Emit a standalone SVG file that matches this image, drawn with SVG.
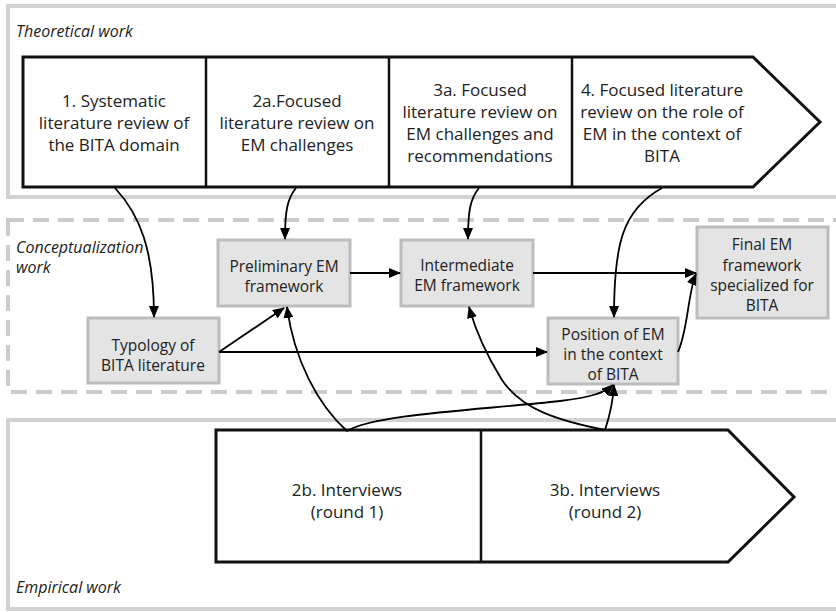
<svg xmlns="http://www.w3.org/2000/svg" width="836" height="612" viewBox="0 0 836 612">
<defs>
<marker id="ah" viewBox="0 0 12 10" refX="11" refY="5" markerWidth="12" markerHeight="10" markerUnits="userSpaceOnUse" orient="auto">
<path d="M0,0 L12,5 L0,10 Z" fill="#000"/>
</marker>
</defs>
<style>
.panel{fill:#fff;stroke:#d2d2d2;stroke-width:4}
.dpanel{fill:#fff;stroke:#cccccc;stroke-width:4;stroke-dasharray:16 9}
.plabel{font-family:"Open Sans","DejaVu Sans",sans-serif;font-style:italic;font-size:16px;fill:#222}
.chev{fill:#fff;stroke:#111;stroke-width:3;stroke-linejoin:miter}
.div{stroke:#111;stroke-width:2.5}
.big{font-family:"Open Sans","DejaVu Sans",sans-serif;font-size:17px;fill:#222;text-anchor:middle}
.node{fill:#e4e4e4;stroke:#bcbcbc;stroke-width:3}
.nt{font-family:"Open Sans","DejaVu Sans",sans-serif;font-size:15.5px;fill:#222;text-anchor:middle}
.c{fill:none;stroke:#000;stroke-width:1.8}
.ca{fill:none;stroke:#000;stroke-width:1.8;marker-end:url(#ah)}
</style>
<g id="panel-theoretical">
<rect class="panel" x="8" y="6" width="836" height="191"/>
<text class="plabel" x="16" y="37">Theoretical work</text>
</g>
<g id="panel-conceptualization">
<rect class="dpanel" x="8" y="220" width="836" height="172"/>
<text class="plabel" x="16" y="253">Conceptualization</text>
<text class="plabel" x="16" y="273">work</text>
</g>
<g id="panel-empirical">
<rect class="panel" x="8" y="420" width="836" height="189"/>
<text class="plabel" x="16" y="593">Empirical work</text>
</g>
<g id="theory-chevron">
<polygon class="chev" points="23,57 753,57 820,122 753,187 23,187"/>
<line class="div" x1="206" y1="57" x2="206" y2="187"/>
<line class="div" x1="389" y1="57" x2="389" y2="187"/>
<line class="div" x1="572" y1="57" x2="572" y2="187"/>
</g>
<g id="step1">
<text class="big" x="114" y="107">1. Systematic</text>
<text class="big" x="114" y="129">literature review of</text>
<text class="big" x="114" y="151">the BITA domain</text>
</g>
<g id="step2a">
<text class="big" x="297" y="107">2a.Focused</text>
<text class="big" x="297" y="129">literature review on</text>
<text class="big" x="297" y="151">EM challenges</text>
</g>
<g id="step3a">
<text class="big" x="480" y="96">3a. Focused</text>
<text class="big" x="480" y="118">literature review on</text>
<text class="big" x="480" y="140">EM challenges and</text>
<text class="big" x="480" y="162">recommendations</text>
</g>
<g id="step4">
<text class="big" x="662" y="96">4. Focused literature</text>
<text class="big" x="662" y="118">review on the role of</text>
<text class="big" x="662" y="140">EM in the context of</text>
<text class="big" x="662" y="162">BITA</text>
</g>
<g id="preliminary">
<rect class="node" x="218" y="240" width="132" height="66"/>
<text class="nt" x="284" y="272">Preliminary EM</text>
<text class="nt" x="284" y="292">framework</text>
</g>
<g id="typology">
<rect class="node" x="88" y="318" width="131" height="65"/>
<text class="nt" x="153" y="351">Typology of</text>
<text class="nt" x="153" y="371">BITA literature</text>
</g>
<g id="intermediate">
<rect class="node" x="401" y="240" width="132" height="66"/>
<text class="nt" x="467" y="271">Intermediate</text>
<text class="nt" x="467" y="291">EM framework</text>
</g>
<g id="position">
<rect class="node" x="548" y="318" width="130" height="66"/>
<text class="nt" x="613" y="340">Position of EM</text>
<text class="nt" x="613" y="360">in the context</text>
<text class="nt" x="613" y="380">of BITA</text>
</g>
<g id="final">
<rect class="node" x="697" y="227" width="131" height="91"/>
<text class="nt" x="762" y="250">Final EM</text>
<text class="nt" x="762" y="271">framework</text>
<text class="nt" x="762" y="291">specialized for</text>
<text class="nt" x="762" y="311">BITA</text>
</g>
<g id="empirical-chevron">
<polygon class="chev" points="216,430 728,430 794,497 728,562 216,562"/>
<line class="div" x1="481" y1="430" x2="481" y2="562"/>
</g>
<g id="step2b">
<text class="big" x="347" y="496">2b. Interviews</text>
<text class="big" x="347" y="518">(round 1)</text>
</g>
<g id="step3b">
<text class="big" x="605" y="496">3b. Interviews</text>
<text class="big" x="605" y="518">(round 2)</text>
</g>
<g id="connectors">
<path class="ca" d="M115,188 C140,215 154,250 154,317"/>
<path class="ca" d="M296,188 C287,199 285,212 285,239"/>
<path class="ca" d="M479,188 C470,199 468,212 468,239"/>
<path class="ca" d="M662,188 C622,210 614,245 614,317"/>
<path class="ca" d="M350,273 L400,273"/>
<path class="ca" d="M533,273 L696,273"/>
<path class="ca" d="M678,352 C688,330 688,292 696,274"/>
<path class="ca" d="M219,352 L284,308"/>
<path class="ca" d="M219,352 L547,352"/>
<path class="ca" d="M347,431 C318,405 294,360 287,307"/>
<path class="ca" d="M347,431 C375,414 480,410 560,401 C592,397 604,393 613,385"/>
<path class="ca" d="M605,430 C560,421 522,410 502,380 C487,356 476,332 469,307"/>
<path class="ca" d="M605,430 C610,415 613,402 614,385"/>
</g>
</svg>
